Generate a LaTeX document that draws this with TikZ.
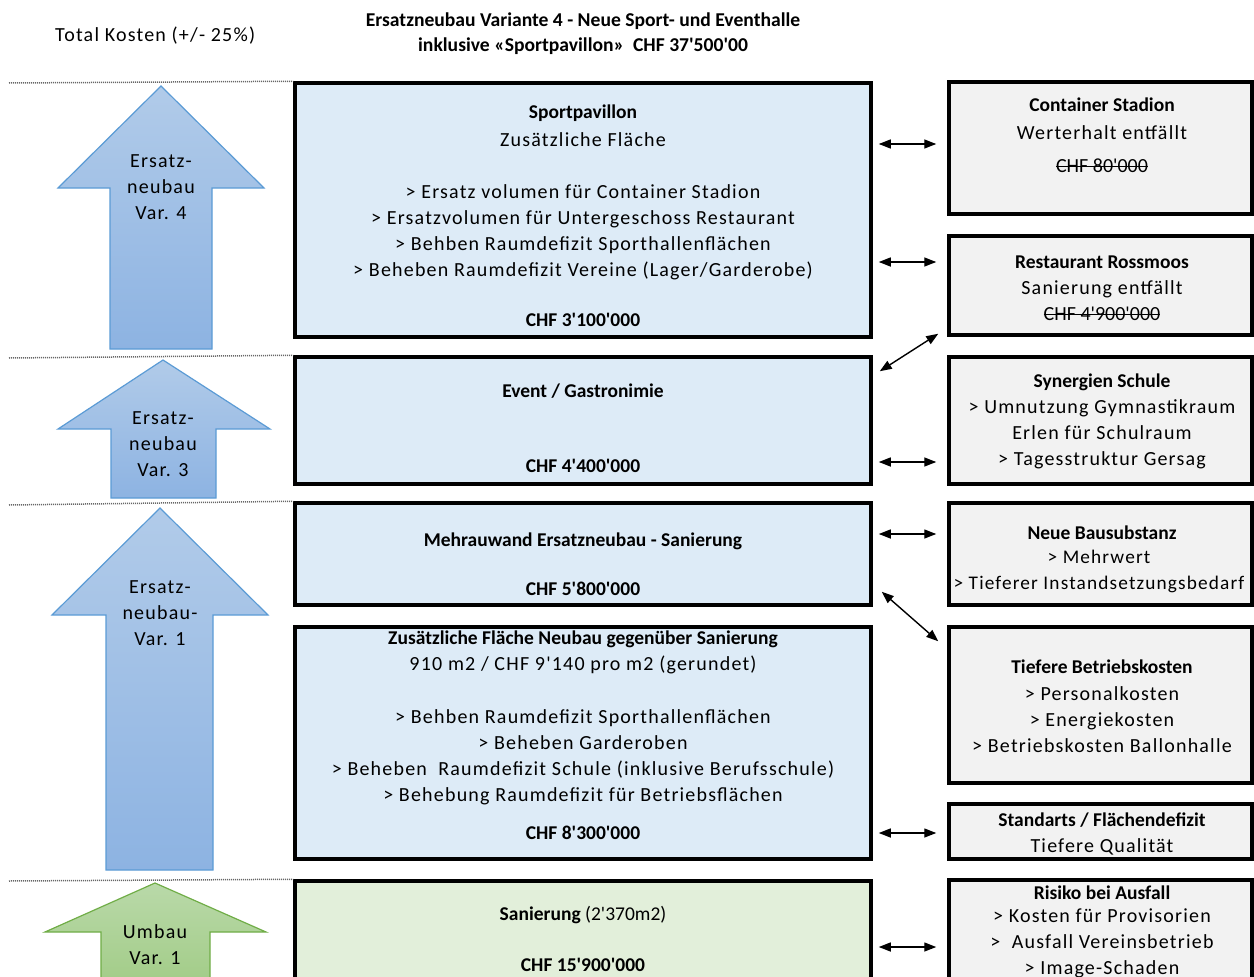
\documentclass[tikz,border=0pt]{standalone}
\usepackage{fontspec}
\setmainfont{Carlito}[Ligatures=TeXOff]
\newfontfamily\spacedfam{Carlito}[Ligatures=TeXOff,LetterSpace=6]
\usetikzlibrary{arrows.meta}
\definecolor{boxblue}{HTML}{DDEBF7}
\definecolor{boxgreen}{HTML}{E2EFDA}
\definecolor{boxgrey}{HTML}{F2F2F2}
\definecolor{arrowtop}{HTML}{B1CBE9}
\definecolor{arrowbot}{HTML}{8DB3E2}
\definecolor{arrowline}{HTML}{5B9BD5}
\definecolor{greentop}{HTML}{B9D9A9}
\definecolor{greenbot}{HTML}{A0CB84}
\definecolor{greenline}{HTML}{70AD47}
\newcommand{\txtbody}{\spacedfam\mdseries\fontsize{20}{26}\selectfont}
\newcommand{\txthead}{\rmfamily\bfseries\fontsize{19.5}{26}\selectfont}
\newsavebox{\strikebox}
\newcommand{\strikeout}[1]{\sbox{\strikebox}{#1}\rlap{\usebox{\strikebox}}\rule[0.3em]{\wd\strikebox}{0.06em}}

\begin{document}
\begin{tikzpicture}[x=1pt,y=-1pt,
  midbox/.style={draw=black,line width=3.5pt,fill=boxblue,minimum width=576pt,inner sep=0pt},
  sidebox/.style={draw=black,line width=3.5pt,fill=boxgrey,minimum width=303pt,inner sep=0pt},
  body/.style={font=\txtbody,align=center,inner sep=0pt},
  head/.style={font=\txthead,align=center,inner sep=0pt},
  upshade/.style={top color=arrowtop,bottom color=arrowbot,draw=arrowline,line width=1.2pt},
  greenshade/.style={top color=greentop,bottom color=greenbot,draw=greenline,line width=1.2pt},
  sepline/.style={black!60,line width=1.5pt,dash pattern=on 1pt off 1pt},
  link/.style={{Triangle[length=12pt,width=9pt]}-{Triangle[length=12pt,width=9pt]},line width=1.4pt,shorten <=6pt,shorten >=11pt}]
\useasboundingbox (0,0) rectangle (1254,977);
\clip (0,0) rectangle (1254,977);
% titles
\node[body,anchor=west] (total) at (55,36) {Total Kosten (+/- 25\%)};
\node[font=\bfseries\fontsize{19.6}{25}\selectfont,align=center,inner sep=0pt] (title) at (583,33.5) {Ersatzneubau Variante 4 - Neue Sport- und Eventhalle\\inklusive «Sportpavillon»~~CHF 37'500'00};
% up arrows
\shade[upshade] (161,86) -- (264,188) -- (212,188) -- (212,349) -- (110,349) -- (110,188) -- (58,188) -- cycle;
\node[body] (var4) at (161,187) {Ersatz-\\neubau\\Var. 4};
\shade[upshade] (163,360) -- (270,429) -- (216,429) -- (216,498) -- (111,498) -- (111,429) -- (58,429) -- cycle;
\node[body] (var3) at (163,444) {Ersatz-\\neubau\\Var. 3};
\shade[upshade] (160,508) -- (268,615) -- (213,615) -- (213,870) -- (106,870) -- (106,615) -- (52,615) -- cycle;
\node[body] (var1) at (160,613) {Ersatz-\\neubau-\\Var. 1};
\shade[greenshade] (155,883) -- (266,932) -- (210,932) -- (210,995) -- (101,995) -- (101,932) -- (45,932) -- cycle;
\node[body] (umbau) at (155,945) {Umbau\\Var. 1};
% middle boxes
\node[midbox,minimum height=254pt] (b1) at (583,210) {};
\node[head] (b1h) at (583,113) {Sportpavillon};
\node[body] (b1s) at (583,140) {Zusätzliche Fläche};
\node[body] (b1l) at (583,232) {> Ersatz volumen für Container Stadion\\> Ersatzvolumen für Untergeschoss Restaurant\\> Behben Raumdefizit Sporthallenflächen\\> Beheben Raumdefizit Vereine (Lager/Garderobe)};
\node[head] (b1c) at (583,320) {CHF 3'100'000};
\node[midbox,minimum height=127pt] (b2) at (583,420.5) {};
\node[head] (b2h) at (583,391) {Event / Gastronimie};
\node[head] (b2c) at (583,466) {CHF 4'400'000};
\node[midbox,minimum height=102pt] (b3) at (583,554) {};
\node[head] (b3h) at (583,541) {Mehrauwand Ersatzneubau - Sanierung};
\node[head] (b3c) at (583,589) {CHF 5'800'000};
\node[midbox,minimum height=232pt] (b4) at (583,743) {};
\node[head] (b4h) at (583,639) {Zusätzliche Fläche Neubau gegenüber Sanierung};
\node[body] (b4s) at (583,665) {910 m2 / CHF 9'140 pro m2 (gerundet)};
\node[body] (b4l) at (583,757) {> Behben Raumdefizit Sporthallenflächen\\> Beheben Garderoben\\> Beheben~~Raumdefizit Schule (inklusive Berufsschule)\\> Behebung Raumdefizit für Betriebsflächen};
\node[head] (b4c) at (583,833) {CHF 8'300'000};
\node[midbox,fill=boxgreen,minimum height=133pt] (b5) at (583,947.5) {};
\node[head] (b5h) at (583,915) {Sanierung \mdseries(2'370m2)};
\node[head] (b5c) at (583,965) {CHF 15'900'000};
% separators
\draw[sepline] (9,83) -- (b1.north west);
\draw[sepline] (9,358) -- (b2.north west);
\draw[sepline] (9,505) -- (b3.north west);
\draw[sepline] (9,881) -- (b5.north west);
% side boxes
\node[sidebox,minimum height=132pt] (r1) at (1100.5,148) {};
\node[head] (r1h) at (1102,105) {Container Stadion};
\node[body] (r1t) at (1102,149.5) {Werterhalt entfällt\\[7pt]\rmfamily\strikeout{CHF 80'000}};
\node[sidebox,minimum height=99pt] (r2) at (1100.5,285.5) {};
\node[head] (r2h) at (1102,262) {Restaurant Rossmoos};
\node[body] (r2t) at (1102,301) {Sanierung entfällt\\\rmfamily\strikeout{CHF 4'900'000}};
\node[sidebox,minimum height=127pt] (r3) at (1100.5,420.5) {};
\node[head] (r3h) at (1102,382) {Synergien Schule};
\node[body] (r3t) at (1102,434) {> Umnutzung Gymnastikraum\\Erlen für Schulraum\\> Tagesstruktur Gersag};
\node[sidebox,minimum height=102pt] (r4) at (1100.5,554) {};
\node[head] (r4h) at (1102,533) {Neue Bausubstanz};
\node[body,font=\txtbody\fontsize{19.3}{26}\selectfont] (r4t) at (1099,571.5) {> Mehrwert\\> Tieferer Instandsetzungsbedarf};
\node[sidebox,minimum height=156pt] (r5) at (1100.5,705) {};
\node[head] (r5h) at (1102,667) {Tiefere Betriebskosten};
\node[body] (r5t) at (1102,719.5) {> Personalkosten\\> Energiekosten\\> Betriebskosten Ballonhalle};
\node[sidebox,minimum height=55pt] (r6) at (1100.5,831.5) {};
\node[head] (r6h) at (1102,820) {Standarts / Flächendefizit};
\node[body] (r6t) at (1102,847) {Tiefere Qualität};
\node[sidebox,minimum height=134pt] (r7) at (1100.5,947) {};
\node[head] (r7h) at (1102,893) {Risiko bei Ausfall};
\node[body] (r7t) at (1102,943) {> Kosten für Provisorien\\>~~Ausfall Vereinsbetrieb\\> Image-Schaden};
% connectors
\coordinate (l1) at ([yshift=4pt]r1.west);
\coordinate (l2) at ([yshift=23.5pt]r2.west);
\coordinate (l4) at ([yshift=-41.5pt]r3.west);
\coordinate (l5) at ([yshift=20pt]r4.west);
\coordinate (l7) at ([yshift=-1.5pt]r6.west);
\draw[link] (b1.east |- l1) -- (l1);
\draw[link] (b1.east |- l2) -- (l2);
\draw[link,shorten <=0pt,shorten >=0pt] ([shift={(7,16)}]b2.north east) -- ([shift={(-9,-3)}]r2.south west);
\draw[link] (b2.east |- l4) -- (l4);
\draw[link] (b3.east |- l5) -- (l5);
\draw[link,shorten <=0pt,shorten >=0pt] ([shift={(9,-15)}]b3.south east) -- ([shift={(-9,16)}]r5.north west);
\draw[link] (b4.east |- l7) -- (l7);
\draw[link] (b5.east |- r7.west) -- (r7.west);
\end{tikzpicture}
\end{document}
